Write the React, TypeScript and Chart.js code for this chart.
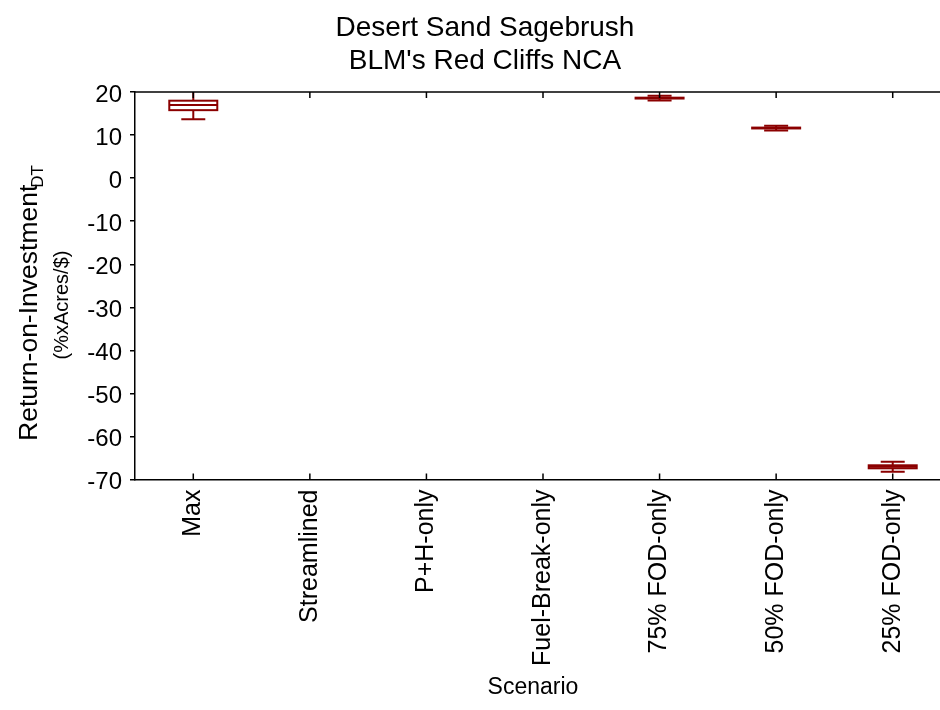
import React, { useEffect, useRef } from 'react';
import { Chart, registerables } from 'chart.js';

Chart.register(...registerables);

// Scenario categories along the x axis
const scenarios = [
  'Max',
  'Streamlined',
  'P+H-only',
  'Fuel-Break-only',
  '75% FOD-only',
  '50% FOD-only',
  '25% FOD-only',
];

// Box-plot statistics per scenario (null = no result for that scenario)
const whiskerLow: (number | null)[] = [13.7, null, null, null, 18.05, 11.1, -68.2];
const quartile1: (number | null)[] = [15.8, null, null, null, 18.5, 11.55, -67.4];
const medians: (number | null)[] = [17.0, null, null, null, 18.6, 11.65, -67.05];
const quartile3: (number | null)[] = [18.0, null, null, null, 18.7, 11.75, -66.7];
const whiskerHigh: (number | null)[] = [20.8, null, null, null, 19.15, 12.2, -65.85];

// Value axis range and step
const yMin = -70;
const yMax = 20;
const yStep = 10;

const titleLines = ['Desert Sand Sagebrush', "BLM's Red Cliffs NCA"];
const yTitleMain = 'Return-on-Investment';
const yTitleSub = 'DT';
const yTitleUnits = '(%xAcres/$)';
const xTitle = 'Scenario';

const FONT = "'Liberation Sans', Arial, Helvetica, sans-serif";
const BOX_COLOR = '#8b0000';

const boxPlotPlugin = {
  id: 'boxPlot',
  afterDatasetsDraw(chart: any) {
    const { ctx, chartArea } = chart;
    const xs = chart.scales.x;
    const ys = chart.scales.y;
    const boxHalf = 24;
    const capHalf = 12;
    ctx.save();
    ctx.beginPath();
    ctx.rect(chartArea.left, chartArea.top, chartArea.right - chartArea.left, chartArea.bottom - chartArea.top);
    ctx.clip();
    ctx.strokeStyle = BOX_COLOR;
    ctx.lineWidth = 2;
    scenarios.forEach((_, i) => {
      const med = medians[i];
      if (med == null) return;
      const cx = xs.getPixelForValue(i);
      const pLow = ys.getPixelForValue(whiskerLow[i] as number);
      const pQ1 = ys.getPixelForValue(quartile1[i] as number);
      const pMed = ys.getPixelForValue(med);
      const pQ3 = ys.getPixelForValue(quartile3[i] as number);
      const pHigh = ys.getPixelForValue(whiskerHigh[i] as number);

      // box
      ctx.fillStyle = '#ffffff';
      ctx.fillRect(cx - boxHalf, pQ3, boxHalf * 2, pQ1 - pQ3);
      ctx.strokeRect(cx - boxHalf, pQ3, boxHalf * 2, pQ1 - pQ3);

      // median
      ctx.beginPath();
      ctx.moveTo(cx - boxHalf, pMed);
      ctx.lineTo(cx + boxHalf, pMed);
      ctx.stroke();

      // whiskers and caps
      ctx.beginPath();
      ctx.moveTo(cx, pQ1);
      ctx.lineTo(cx, pLow);
      ctx.moveTo(cx, pQ3);
      ctx.lineTo(cx, pHigh);
      ctx.moveTo(cx - capHalf, pLow);
      ctx.lineTo(cx + capHalf, pLow);
      ctx.moveTo(cx - capHalf, pHigh);
      ctx.lineTo(cx + capHalf, pHigh);
      ctx.stroke();
    });
    ctx.restore();
  },
  afterDraw(chart: any) {
    const { ctx, chartArea } = chart;
    const xs = chart.scales.x;
    ctx.save();
    // top frame line
    ctx.strokeStyle = '#000';
    ctx.lineWidth = 1.5;
    ctx.beginPath();
    ctx.moveTo(chartArea.left, chartArea.top);
    ctx.lineTo(chartArea.right, chartArea.top);
    ctx.stroke();
    // inward category ticks on bottom and top edges
    ctx.beginPath();
    scenarios.forEach((_, i) => {
      const px = xs.getPixelForValue(i);
      ctx.moveTo(px, chartArea.bottom);
      ctx.lineTo(px, chartArea.bottom - 6);
      ctx.moveTo(px, chartArea.top);
      ctx.lineTo(px, chartArea.top + 6);
    });
    ctx.stroke();

    ctx.fillStyle = '#000';
    ctx.textBaseline = 'middle';

    // x axis title
    ctx.font = `23px ${FONT}`;
    ctx.textAlign = 'center';
    ctx.fillText(xTitle, 533, 688);

    // y axis title with subscript, plus units line
    const centerY = 303;
    ctx.save();
    ctx.translate(30, centerY);
    ctx.rotate(-Math.PI / 2);
    ctx.font = `26.5px ${FONT}`;
    const mainW = ctx.measureText(yTitleMain).width;
    ctx.font = `17px ${FONT}`;
    const subW = ctx.measureText(yTitleSub).width;
    const total = mainW + subW - 3;
    const start = -total / 2;
    ctx.textAlign = 'left';
    ctx.font = `26.5px ${FONT}`;
    ctx.fillText(yTitleMain, start, 0);
    ctx.font = `17px ${FONT}`;
    ctx.fillText(yTitleSub, start + mainW - 3, 8);
    ctx.restore();

    ctx.save();
    ctx.translate(62, 305);
    ctx.rotate(-Math.PI / 2);
    ctx.textAlign = 'center';
    ctx.font = `20px ${FONT}`;
    ctx.fillText(yTitleUnits, 0, 0);
    ctx.restore();

    ctx.restore();
  },
};

export default function App() {
  const canvasRef = useRef<HTMLCanvasElement | null>(null);

  useEffect(() => {
    const canvas = canvasRef.current;
    if (!canvas) return;
    const chart = new Chart(canvas, {
      type: 'bar',
      data: {
        labels: scenarios,
        datasets: [],
      },
      options: {
        animation: false,
        responsive: false,
        layout: { padding: { left: 0, right: 0, top: 0, bottom: 0 } },
        plugins: {
          legend: { display: false },
          tooltip: { enabled: false },
          title: {
            display: true,
            text: titleLines,
            color: '#000',
            font: { family: FONT, size: 28, weight: 'normal', lineHeight: 1.18 },
            padding: { top: 12, bottom: 14 },
          },
        },
        scales: {
          x: {
            type: 'category',
            offset: true,
            grid: { display: true, drawOnChartArea: false, drawTicks: false },
            border: { display: true, color: '#000', width: 1.5 },
            ticks: {
              color: '#000',
              font: { family: FONT, size: 25 },
              minRotation: 90,
              maxRotation: 90,
              padding: 10,
              autoSkip: false,
            },
            afterFit(scale: any) {
              scale.height = 230.5;
            },
          },
          y: {
            type: 'linear',
            min: yMin,
            max: yMax,
            grid: {
              drawOnChartArea: false,
              drawTicks: true,
              tickLength: 5,
              color: '#000',
              lineWidth: 1.5,
            },
            border: { display: true, color: '#000', width: 1.5 },
            ticks: {
              stepSize: yStep,
              color: '#000',
              font: { family: FONT, size: 24 },
              padding: 8,
              labelOffset: 3,
            },
            afterFit(scale: any) {
              scale.width = 135;
            },
          },
          // mirror axis forming the right edge of the frame
          yRight: {
            type: 'linear',
            position: 'right',
            min: yMin,
            max: yMax,
            grid: { drawOnChartArea: false, drawTicks: false },
            border: { display: true, color: '#000', width: 1.5 },
            ticks: { display: false, stepSize: yStep },
            afterFit(scale: any) {
              scale.width = 19;
            },
          },
        },
      },
      plugins: [boxPlotPlugin],
    });
    return () => chart.destroy();
  }, []);

  return (
    <div
      style={{
        position: 'fixed',
        left: 0,
        top: 0,
        width: 940,
        height: 710,
        overflow: 'hidden',
        background: '#fff',
      }}
    >
      <canvas ref={canvasRef} width={970} height={710} style={{ width: 970, height: 710, display: 'block' }} />
    </div>
  );
}
